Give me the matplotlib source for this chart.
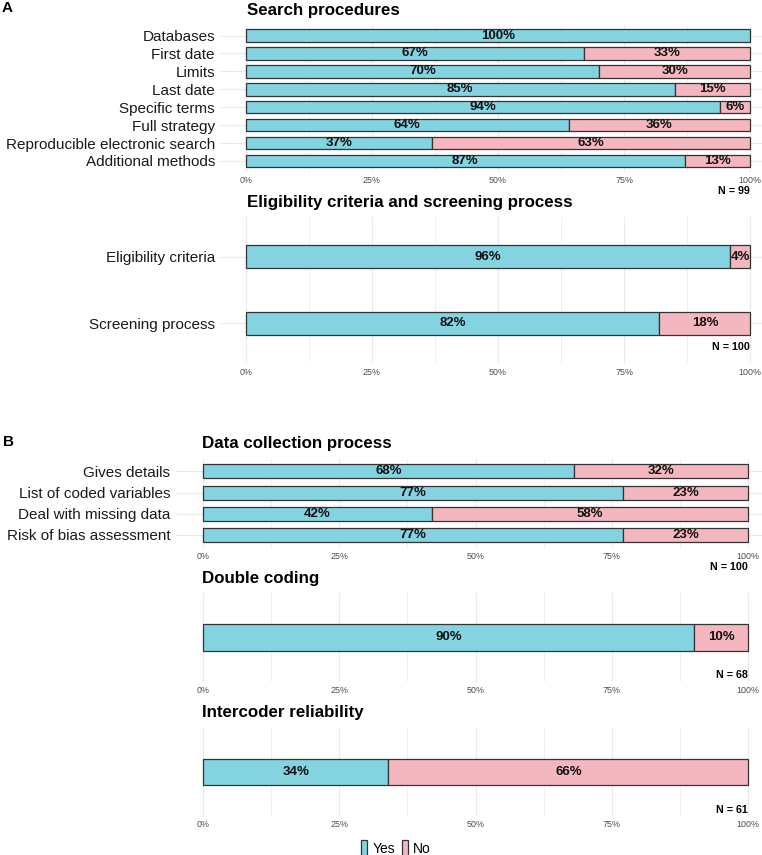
import matplotlib
matplotlib.use("Agg")
import matplotlib.pyplot as plt
from matplotlib.patches import Patch

plt.rcParams['font.family'] = ['Liberation Sans', 'DejaVu Sans']

# data (percent Yes / No per item)
search_items = ['Databases', 'First date', 'Limits', 'Last date', 'Specific terms',
                'Full strategy', 'Reproducible electronic search', 'Additional methods']
search_yes = [100, 67, 70, 85, 94, 64, 37, 87]
search_no = [0, 33, 30, 15, 6, 36, 63, 13]

elig_items = ['Eligibility criteria', 'Screening process']
elig_yes = [96, 82]
elig_no = [4, 18]

coll_items = ['Gives details', 'List of coded variables', 'Deal with missing data',
              'Risk of bias assessment']
coll_yes = [68, 77, 42, 77]
coll_no = [32, 23, 58, 23]

double_yes = [90]
double_no = [10]

inter_yes = [34]
inter_no = [66]

tick_vals = [0, 25, 50, 75, 100]
tick_labels = ['0%', '25%', '50%', '75%', '100%']

YES_COL = '#83D3E1'
NO_COL = '#F4B6BF'
EDGE = '#333333'
GRID = '#EBEBEB'

W, H = 762, 855
fig = plt.figure(figsize=(W / 100, H / 100), dpi=100)


def px_axes(x0, x1, y0, y1):
    return fig.add_axes([x0 / W, 1 - y1 / H, (x1 - x0) / W, (y1 - y0) / H])


def panel(x0, x1, y0, y1, items, yes, no, bar_h):
    # x0/x1 are the 0% / 100% pixel positions, axes gets 5% expansion like ggplot
    span = x1 - x0
    ax = px_axes(x0 - 0.05 * span, x1 + 0.05 * span, y0, y1)
    n = len(yes)
    pos = list(range(1, n + 1))
    ax.set_xlim(-5, 105)
    ax.set_ylim(n + 0.6, 0.4)
    for v in [12.5, 37.5, 62.5, 87.5]:
        ax.axvline(v, color=GRID, lw=0.5, zorder=0)
    for v in tick_vals:
        ax.axvline(v, color=GRID, lw=0.9, zorder=0)
    if items is not None:
        for p in pos:
            ax.axhline(p, color=GRID, lw=0.9, zorder=0)
    for p, a, b in zip(pos, yes, no):
        ax.barh(p, a, height=bar_h, color=YES_COL, edgecolor=EDGE, lw=0.9, zorder=2)
        ax.text(a / 2, p, f'{a}%', ha='center', va='center', fontsize=9.5,
                fontweight='bold', color='#111111', zorder=3)
        if b > 0:
            ax.barh(p, b, left=a, height=bar_h, color=NO_COL, edgecolor=EDGE, lw=0.9, zorder=2)
            ax.text(a + b / 2, p, f'{b}%', ha='center', va='center', fontsize=9.5,
                    fontweight='bold', color='#111111', zorder=3)
    ax.set_xticks(tick_vals)
    ax.set_xticklabels(tick_labels, fontsize=6.4, color='#4D4D4D')
    if items is not None:
        ax.set_yticks(pos)
        ax.set_yticklabels(items, fontsize=11, color='#1A1A1A')
    else:
        ax.set_yticks([])
    ax.tick_params(length=0, axis='x', pad=3)
    ax.tick_params(length=0, axis='y', pad=4)
    for s in ax.spines.values():
        s.set_visible(False)
    ax.set_facecolor('none')
    return ax


def title(x, y, s):
    fig.text(x / W, 1 - y / H, s, ha='left', va='center', fontsize=12.2, fontweight='bold')


def ntext(x, y, s):
    fig.text(x / W, 1 - y / H, s, ha='right', va='center', fontsize=7.7, fontweight='bold')


# panel A
fig.text(2 / W, 1 - 8 / H, 'A', fontsize=11, fontweight='bold', va='center')
title(247, 11, 'Search procedures')
panel(245.7, 750.3, 24.8, 171.7, search_items, search_yes, search_no, 0.7)
ntext(750, 191, 'N = 99')

title(247, 202, 'Eligibility criteria and screening process')
panel(245.7, 750.3, 216.7, 363.4, elig_items, elig_yes, elig_no, 0.35)
ntext(750, 347, 'N = 100')

# panel B
fig.text(3 / W, 1 - 442 / H, 'B', fontsize=11, fontweight='bold', va='center')
title(202, 443, 'Data collection process')
panel(203, 748.3, 458.6, 547.7, coll_items, coll_yes, coll_no, 0.66)
ntext(748, 567, 'N = 100')

title(202, 579, 'Double coding')
panel(203, 748.3, 593, 682, None, double_yes, double_no, 0.36)
ntext(748, 675, 'N = 68')

title(202, 713, 'Intercoder reliability')
panel(203, 748.3, 728, 816, None, inter_yes, inter_no, 0.36)
ntext(748, 810, 'N = 61')

handles = [Patch(facecolor=YES_COL, edgecolor=EDGE, lw=0.9),
           Patch(facecolor=NO_COL, edgecolor=EDGE, lw=0.9)]
fig.legend(handles=handles, labels=['Yes', 'No'], loc='center',
           bbox_to_anchor=(396 / W, 1 - 848 / H), ncol=2, frameon=False,
           fontsize=10, handlelength=0.45, handleheight=1.3, handletextpad=0.35,
           columnspacing=0.5, borderpad=0)

fig.savefig('out.png', dpi=100)
